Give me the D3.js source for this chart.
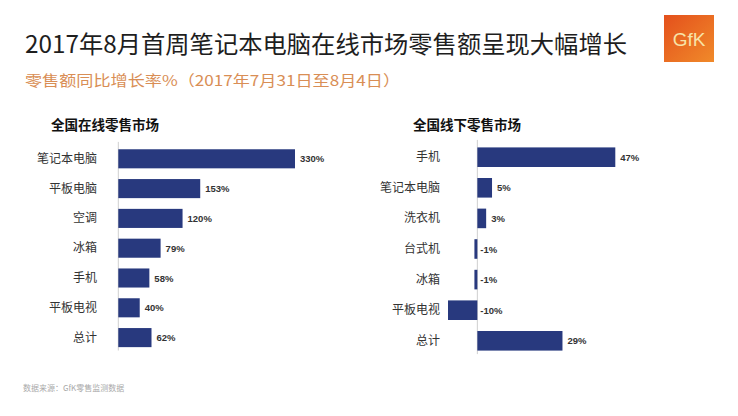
<!DOCTYPE html>
<html>
<head>
<meta charset="utf-8">
<script src="https://cdn.jsdelivr.net/npm/d3@7"></script>
<style>
  body { margin: 0; background: #fff; }
  svg text { font-family: "Noto Sans CJK SC", "Noto Sans", sans-serif; }
</style>
</head>
<body>
<div id="chart"></div>
<script>
// data
var onlineCats = ["笔记本电脑", "平板电脑", "空调", "冰箱", "手机", "平板电视", "总计"];
var onlineVals = [330, 153, 120, 79, 58, 40, 62];
var offlineCats = ["手机", "笔记本电脑", "洗衣机", "台式机", "冰箱", "平板电视", "总计"];
var offlineVals = [47, 5, 3, -1, -1, -10, 29];

var width = 738, height = 416;
var barColor = "#28397e";

var svg = d3.select("#chart").append("svg")
  .attr("width", width)
  .attr("height", height);

// titles
svg.append("text")
  .attr("x", 25).attr("y", 53)
  .attr("font-size", 24)
  .attr("fill", "#1e1e1e")
  .attr("textLength", 602)
  .attr("lengthAdjust", "spacingAndGlyphs")
  .text("2017年8月首周笔记本电脑在线市场零售额呈现大幅增长");

svg.append("text")
  .attr("x", 25).attr("y", 86)
  .attr("font-size", 15)
  .attr("fill", "#d98e55")
  .attr("textLength", 375)
  .attr("lengthAdjust", "spacingAndGlyphs")
  .text("零售额同比增长率%（2017年7月31日至8月4日）");

// GfK logo
var grad = svg.append("defs").append("linearGradient")
  .attr("id", "gfk").attr("x1", 0).attr("y1", 0).attr("x2", 1).attr("y2", 1);
grad.append("stop").attr("offset", 0).attr("stop-color", "#e4501c");
grad.append("stop").attr("offset", 1).attr("stop-color", "#f08a2a");
svg.append("rect")
  .attr("x", 664).attr("y", 15).attr("width", 50).attr("height", 47)
  .attr("fill", "url(#gfk)");
svg.append("text")
  .attr("x", 689).attr("y", 46)
  .attr("text-anchor", "middle")
  .attr("font-size", 19)
  .attr("fill", "#f7e3a8")
  .style("font-family", "'Liberation Sans', sans-serif")
  .text("GfK");

// footnote
svg.append("text")
  .attr("x", 23).attr("y", 391)
  .attr("font-size", 8)
  .attr("fill", "#aaa")
  .text("数据来源：GfK零售监测数据");

function drawPanel(cats, vals, opt) {
  var x = d3.scaleLinear().domain(opt.domain).range(opt.range);
  var y = d3.scaleBand().domain(cats).range(opt.yRange)
    .paddingInner(0.36).paddingOuter(0.18);
  var g = svg.append("g");

  g.append("text")
    .attr("x", opt.titleX).attr("y", 130)
    .attr("font-size", 13.5)
    .attr("font-weight", "bold")
    .attr("fill", "#111")
    .text(opt.title);

  // zero line
  g.append("line")
    .attr("x1", x(0)).attr("x2", x(0))
    .attr("y1", opt.yRange[0] - 2).attr("y2", opt.yRange[1] - 2)
    .attr("stroke", "#cfcfcf");

  var data = cats.map(function(c, i) { return { cat: c, val: vals[i] }; });

  g.selectAll("rect.bar").data(data).enter().append("rect")
    .attr("class", "bar")
    .attr("x", function(d) { return x(Math.min(0, d.val)); })
    .attr("y", function(d) { return y(d.cat); })
    .attr("width", function(d) { return Math.abs(x(d.val) - x(0)); })
    .attr("height", y.bandwidth())
    .attr("fill", barColor);

  g.selectAll("text.cat").data(data).enter().append("text")
    .attr("class", "cat")
    .attr("x", opt.labelX)
    .attr("y", function(d) { return y(d.cat) + y.bandwidth() / 2 + 4; })
    .attr("text-anchor", "end")
    .attr("font-size", 12)
    .attr("fill", "#333")
    .text(function(d) { return d.cat; });

  g.selectAll("text.val").data(data).enter().append("text")
    .attr("class", "val")
    .attr("x", function(d) { return d.val >= 0 ? x(d.val) + 5 : x(0) + 3; })
    .attr("y", function(d) { return y(d.cat) + y.bandwidth() / 2 + 3.5; })
    .attr("font-size", 9.5)
    .attr("font-weight", "bold")
    .attr("fill", "#333")
    .style("font-family", "'Liberation Sans', sans-serif")
    .text(function(d) { return d.val + "%"; });
}

drawPanel(onlineCats, onlineVals, {
  title: "全国在线零售市场", titleX: 51,
  domain: [0, 330], range: [118.3, 295],
  yRange: [143.9, 352.5], labelX: 97
});

drawPanel(offlineCats, offlineVals, {
  title: "全国线下零售市场", titleX: 413,
  domain: [-10, 47], range: [448, 615.3],
  yRange: [141.9, 356.1], labelX: 440
});
</script>
</body>
</html>
